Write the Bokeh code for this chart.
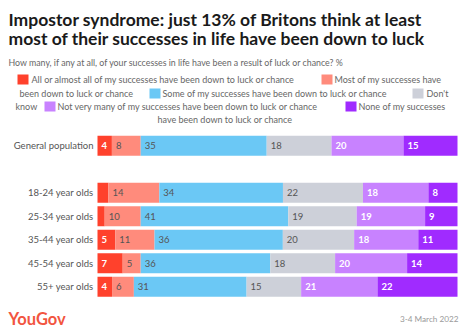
from bokeh.plotting import figure
from bokeh.models import Range1d, ColumnDataSource
from bokeh.embed import file_html
from bokeh.resources import INLINE
from bokeh.core.properties import value

# ---------------- data ----------------
groups = ["General population", "18-24 year olds", "25-34 year olds",
          "35-44 year olds", "45-54 year olds", "55+ year olds"]
series = [
    "All or almost all of my successes have been down to luck or chance",
    "Most of my successes have been down to luck or chance",
    "Some of my successes have been down to luck or chance",
    "Don't know",
    "Not very many of my successes have been down to luck or chance",
    "None of my successes have been down to luck or chance",
]
all_or_almost_all = [4, 3, 2, 5, 7, 4]
most = [8, 14, 10, 11, 5, 6]
some = [35, 34, 41, 36, 36, 31]
dont_know = [18, 22, 19, 20, 18, 15]
not_very_many = [20, 18, 19, 18, 20, 21]
none = [15, 8, 9, 11, 14, 22]
values = [all_or_almost_all, most, some, dont_know, not_very_many, none]

# ---------------- style ----------------
colors = ["#ff412c", "#ff8b7c", "#6bc8f5", "#cdd0d9", "#c882ff", "#a02bff"]
label_colors = ["white", "#555555", "#555555", "#555555", "white", "white"]
label_styles = ["bold", "normal", "normal", "normal", "bold", "bold"]
row_pos = [0, 2, 3, 4, 5, 6]   # a blank slot after the general population

W, H = 469, 336
X0, PXU = 97.0, 3.6          # bar origin (px) and px per percent
Y0, PYU = 145.3, 23.5        # first row centre (px) and px per row


def px2x(px):
    return (px - X0) / PXU


def py2y(py):
    return (py - Y0) / PYU


p = figure(width=W, height=H, output_backend="svg", toolbar_location=None,
           x_range=Range1d(px2x(0), px2x(W)), y_range=Range1d(py2y(H), py2y(0)),
           min_border=0)
p.axis.visible = False
p.grid.visible = False
p.outline_line_color = None
p.background_fill_color = "white"

FONT = "Lato"

# stacked bars (each row scaled to its total)
totals = [sum(v[i] for v in values) for i in range(len(groups))]
left = [0.0] * len(groups)
for k, vals in enumerate(values):
    share = [vals[i] / totals[i] * 100 for i in range(len(groups))]
    right = [left[i] + share[i] for i in range(len(groups))]
    src = ColumnDataSource(dict(y=row_pos, left=list(left), right=right,
                                val=[str(v) for v in vals]))
    p.hbar(y="y", left="left", right="right", height=20 / PYU, source=src,
           fill_color=colors[k], line_color=None)
    lab = ColumnDataSource(dict(
        x=[left[i] for i in range(len(groups)) if vals[i] >= 4],
        y=[row_pos[i] for i in range(len(groups)) if vals[i] >= 4],
        t=[str(vals[i]) for i in range(len(groups)) if vals[i] >= 4]))
    p.text(x="x", y="y", text="t", source=lab, x_offset=4,
           text_font=value(FONT), text_font_size="9.5px",
           text_font_style=label_styles[k], text_color=label_colors[k],
           text_align="left", text_baseline="middle")
    left = right

# group labels
p.text(x=[0] * len(groups), y=row_pos, text=groups, x_offset=-4,
       text_font=value(FONT), text_font_size="9.5px", text_color="#555555",
       text_align="right", text_baseline="middle")

# title and subtitle
p.text(x=[px2x(8)], y=[py2y(19)],
       text=["Impostor syndrome: just 13% of Britons think at least"],
       text_font=value(FONT), text_font_size="17.5px", text_font_style="bold",
       text_color="#1a1a1a", text_align="left", text_baseline="middle")
p.text(x=[px2x(8)], y=[py2y(38)],
       text=["most of their successes in life have been down to luck"],
       text_font=value(FONT), text_font_size="17.5px", text_font_style="bold",
       text_color="#1a1a1a", text_align="left", text_baseline="middle")
p.text(x=[px2x(8)], y=[py2y(62)],
       text=["How many, if any at all, of your successes in life have been a result of luck or chance? %"],
       text_font=value(FONT), text_font_size="8.8px", text_color="#666666",
       text_align="left", text_baseline="middle")

# legend (wrapped, centred flow)
leg_swatches = [(17, 79, 0), (321, 79, 1), (149, 93, 2), (412, 93, 3),
                (44, 106, 4), (345, 106, 5)]
leg_texts = [
    ("All or almost all of my successes have been down to luck or chance", 31, 79),
    ("Most of my successes have", 334, 79),
    ("been down to luck or chance", 19, 93),
    ("Some of my successes have been down to luck or chance", 162, 93),
    ("Don't", 426, 93),
    ("know", 15, 106),
    ("Not very many of my successes have been down to luck or chance", 57, 106),
    ("None of my successes", 358, 106),
    ("have been down to luck or chance", 157, 119),
]
for sx, sy, k in leg_swatches:
    p.rect(x=[px2x(sx + 5.5)], y=[py2y(sy)], width=11 / PXU, height=10 / PYU,
           fill_color=colors[k], line_color=None)
p.text(x=[px2x(t[1]) for t in leg_texts], y=[py2y(t[2]) for t in leg_texts],
       text=[t[0] for t in leg_texts], text_font=value(FONT),
       text_font_size="9px", text_color="#666666", text_align="left",
       text_baseline="middle")

# footer
p.text(x=[px2x(8)], y=[py2y(318)], text=["YouGov"], text_font=value(FONT),
       text_font_size="16.5px", text_font_style="bold", text_color="#f2553f",
       text_align="left", text_baseline="middle")
p.text(x=[px2x(458)], y=[py2y(318)], text=["3-4 March 2022"],
       text_font=value(FONT), text_font_size="8.2px", text_color="#999999",
       text_align="right", text_baseline="middle")

open("out.html", "w").write(file_html(p, INLINE))
